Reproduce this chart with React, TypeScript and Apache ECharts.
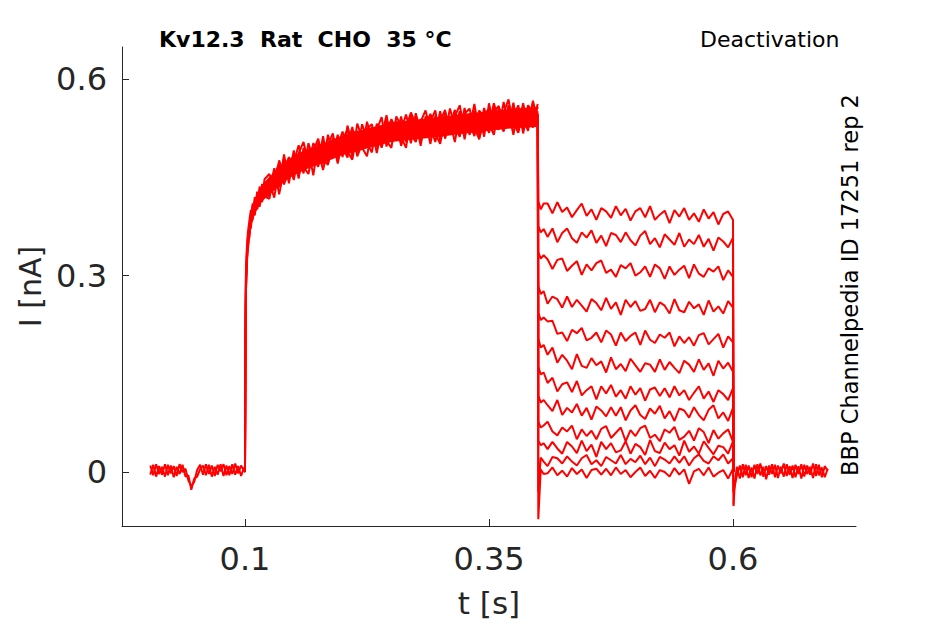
import React, { useEffect, useRef } from "react";
import * as echarts from "echarts";

// ---- tick labels ----
const xTicks = [0.1, 0.35, 0.6];
const yTicks = [0, 0.3, 0.6];

// ---- baseline before the step (s, nA) ----
const preTimes = [0.003, 0.006, 0.009, 0.012, 0.015, 0.018, 0.021, 0.024, 0.027, 0.030, 0.033, 0.036, 0.039, 0.042, 0.045, 0.048, 0.051, 0.054, 0.057, 0.060, 0.063, 0.066, 0.069, 0.072, 0.075, 0.078, 0.081, 0.084, 0.087, 0.090, 0.093, 0.096, 0.099];
const preA = [0.010, -0.005, 0.012, -0.003, 0.008, -0.007, 0.011, -0.002, 0.009, -0.006, 0.012, 0.000, 0.005, -0.013, -0.021, -0.015, 0.003, 0.011, -0.004, 0.012, -0.003, 0.010, -0.006, 0.011, 0.001, 0.012, -0.005, 0.009, -0.003, 0.013, -0.002, 0.010, 0.002];
const preB = [-0.004, 0.011, -0.007, 0.009, -0.004, 0.012, -0.005, 0.010, -0.008, 0.008, -0.003, 0.011, -0.007, -0.005, -0.027, -0.010, -0.007, 0.004, 0.010, -0.005, 0.011, -0.007, 0.008, -0.004, 0.012, -0.006, 0.010, -0.005, 0.012, -0.004, 0.009, -0.006, 0.007];

// ---- activation (0.1 - 0.4 s), overlapping sweeps ----
const actTimes = [0.1000, 0.1005, 0.1010, 0.1020, 0.1030, 0.1045, 0.1060, 0.1080, 0.1100, 0.1125, 0.1150, 0.1175, 0.1200,
  0.125, 0.130, 0.135, 0.140, 0.145, 0.150, 0.155, 0.160, 0.165, 0.170, 0.175, 0.180, 0.185, 0.190, 0.195, 0.200,
  0.205, 0.210, 0.215, 0.220, 0.225, 0.230, 0.235, 0.240, 0.245, 0.250, 0.255, 0.260, 0.265, 0.270, 0.275, 0.280,
  0.285, 0.290, 0.295, 0.300, 0.305, 0.310, 0.315, 0.320, 0.325, 0.330, 0.335, 0.340, 0.345, 0.350, 0.355, 0.360,
  0.365, 0.370, 0.375, 0.380, 0.385, 0.390, 0.395, 0.400];
const actA = [0.000, 0.215, 0.305, 0.345, 0.366, 0.384, 0.400, 0.388, 0.420, 0.402, 0.436, 0.418, 0.447,
  0.455, 0.432, 0.476, 0.453, 0.473, 0.446, 0.487, 0.504, 0.471, 0.484, 0.466, 0.507, 0.487, 0.505, 0.471, 0.507,
  0.523, 0.493, 0.510, 0.492, 0.535, 0.509, 0.527, 0.495, 0.526, 0.537, 0.507, 0.523, 0.546, 0.516, 0.504, 0.535,
  0.552, 0.521, 0.532, 0.511, 0.549, 0.520, 0.543, 0.560, 0.521, 0.534, 0.513, 0.552, 0.542, 0.522, 0.560, 0.532,
  0.548, 0.569, 0.528, 0.544, 0.524, 0.560, 0.550, 0.539];
const actB = [0.000, 0.205, 0.296, 0.322, 0.360, 0.358, 0.392, 0.410, 0.396, 0.428, 0.409, 0.440, 0.421,
  0.417, 0.458, 0.445, 0.480, 0.448, 0.473, 0.499, 0.466, 0.455, 0.493, 0.487, 0.470, 0.515, 0.485, 0.512, 0.497,
  0.480, 0.522, 0.514, 0.495, 0.482, 0.524, 0.519, 0.497, 0.538, 0.514, 0.531, 0.498, 0.526, 0.549, 0.531, 0.510,
  0.522, 0.545, 0.515, 0.551, 0.509, 0.536, 0.504, 0.546, 0.534, 0.524, 0.562, 0.519, 0.547, 0.532, 0.515, 0.556,
  0.543, 0.526, 0.564, 0.520, 0.550, 0.534, 0.564, 0.541];
const actC = [0.000, 0.195, 0.285, 0.338, 0.344, 0.378, 0.372, 0.404, 0.414, 0.401, 0.432, 0.416, 0.441,
  0.442, 0.419, 0.468, 0.467, 0.450, 0.491, 0.454, 0.477, 0.493, 0.453, 0.503, 0.481, 0.500, 0.517, 0.480, 0.495,
  0.514, 0.481, 0.532, 0.510, 0.500, 0.527, 0.487, 0.523, 0.503, 0.539, 0.522, 0.504, 0.534, 0.502, 0.548, 0.518,
  0.534, 0.501, 0.544, 0.531, 0.516, 0.555, 0.527, 0.512, 0.547, 0.555, 0.526, 0.508, 0.546, 0.554, 0.532, 0.523,
  0.565, 0.529, 0.543, 0.560, 0.517, 0.554, 0.533, 0.558];
const actD = [0.000, 0.190, 0.280, 0.318, 0.356, 0.365, 0.381, 0.386, 0.411, 0.420, 0.405, 0.433, 0.419,
  0.429, 0.464, 0.424, 0.462, 0.481, 0.457, 0.479, 0.456, 0.502, 0.478, 0.470, 0.513, 0.471, 0.499, 0.498, 0.520,
  0.489, 0.477, 0.520, 0.517, 0.503, 0.488, 0.532, 0.514, 0.545, 0.504, 0.512, 0.543, 0.504, 0.530, 0.536, 0.498,
  0.543, 0.526, 0.504, 0.536, 0.553, 0.516, 0.525, 0.551, 0.508, 0.547, 0.540, 0.518, 0.556, 0.527, 0.563, 0.536,
  0.520, 0.551, 0.515, 0.556, 0.542, 0.521, 0.567, 0.531];
const actE = [0.000, 0.210, 0.300, 0.334, 0.347, 0.375, 0.390, 0.399, 0.392, 0.417, 0.426, 0.412, 0.437,
  0.449, 0.446, 0.435, 0.485, 0.441, 0.485, 0.465, 0.487, 0.464, 0.502, 0.490, 0.461, 0.494, 0.482, 0.515, 0.481,
  0.529, 0.499, 0.488, 0.531, 0.510, 0.499, 0.522, 0.542, 0.497, 0.522, 0.536, 0.512, 0.495, 0.545, 0.521, 0.539,
  0.510, 0.535, 0.552, 0.506, 0.533, 0.522, 0.548, 0.517, 0.556, 0.515, 0.533, 0.547, 0.512, 0.563, 0.527, 0.546,
  0.522, 0.560, 0.534, 0.518, 0.555, 0.546, 0.526, 0.551];
const actF = [0.000, 0.185, 0.275, 0.326, 0.340, 0.362, 0.378, 0.408, 0.400, 0.409, 0.415, 0.429, 0.424,
  0.421, 0.452, 0.472, 0.439, 0.461, 0.481, 0.448, 0.495, 0.474, 0.490, 0.509, 0.478, 0.469, 0.510, 0.489, 0.511,
  0.499, 0.527, 0.482, 0.501, 0.524, 0.531, 0.496, 0.526, 0.506, 0.495, 0.543, 0.528, 0.518, 0.510, 0.542, 0.504,
  0.530, 0.547, 0.517, 0.501, 0.542, 0.528, 0.553, 0.523, 0.516, 0.542, 0.551, 0.510, 0.538, 0.518, 0.550, 0.559,
  0.525, 0.536, 0.557, 0.530, 0.563, 0.527, 0.540, 0.562];

// ---- dense core of the overlapping activation sweeps (envelope) ----
const bandTimes = [0.1035, 0.106, 0.110, 0.115, 0.120, 0.130, 0.140, 0.150, 0.165, 0.180, 0.200, 0.225, 0.250, 0.275, 0.300, 0.325, 0.350, 0.375, 0.399];
const bandLow = [0.348, 0.374, 0.394, 0.408, 0.417, 0.430, 0.443, 0.453, 0.464, 0.472, 0.484, 0.494, 0.504, 0.508, 0.512, 0.517, 0.521, 0.525, 0.527];
const bandHigh = [0.368, 0.396, 0.416, 0.432, 0.443, 0.458, 0.473, 0.483, 0.494, 0.502, 0.514, 0.524, 0.534, 0.538, 0.542, 0.547, 0.551, 0.555, 0.557];

// ---- deactivation tails (0.4 - 0.6 s), one per test step ----
const tailTimes = [0.4000, 0.4005, 0.4030, 0.4060,
  0.410, 0.415, 0.420, 0.425, 0.430, 0.435, 0.440, 0.445, 0.450, 0.455,
  0.460, 0.465, 0.470, 0.475, 0.480, 0.485, 0.490, 0.495, 0.500, 0.505,
  0.510, 0.515, 0.520, 0.525, 0.530, 0.535, 0.540, 0.545, 0.550, 0.555,
  0.560, 0.565, 0.570, 0.575, 0.580, 0.585, 0.590, 0.595, 0.600, 0.6005];
const tail1 = [0.548, 0.414, 0.401, 0.410,
  0.410, 0.395, 0.412, 0.397, 0.404, 0.389, 0.400, 0.410, 0.391, 0.401,
  0.385, 0.403, 0.398, 0.388, 0.406, 0.392, 0.402, 0.384, 0.398, 0.403,
  0.389, 0.406, 0.385, 0.393, 0.399, 0.380, 0.400, 0.390, 0.403, 0.385,
  0.395, 0.382, 0.401, 0.387, 0.397, 0.378, 0.394, 0.398, 0.385, 0.000];
const tail2 = [0.541, 0.376, 0.366, 0.371,
  0.359, 0.372, 0.351, 0.365, 0.372, 0.357, 0.350, 0.366, 0.358, 0.369,
  0.350, 0.361, 0.345, 0.365, 0.362, 0.351, 0.366, 0.354, 0.346, 0.361,
  0.368, 0.348, 0.357, 0.343, 0.363, 0.355, 0.347, 0.365, 0.344, 0.355,
  0.348, 0.362, 0.344, 0.356, 0.338, 0.358, 0.352, 0.343, 0.358, 0.000];
const tail3 = [0.536, 0.336, 0.326, 0.331,
  0.325, 0.310, 0.324, 0.326, 0.307, 0.315, 0.322, 0.301, 0.317, 0.308,
  0.319, 0.323, 0.304, 0.309, 0.298, 0.316, 0.311, 0.319, 0.300, 0.305,
  0.314, 0.298, 0.317, 0.311, 0.295, 0.314, 0.301, 0.309, 0.315, 0.296,
  0.317, 0.303, 0.298, 0.311, 0.306, 0.314, 0.293, 0.308, 0.298, 0.000];
const tail4 = [0.544, 0.284, 0.272, 0.276,
  0.257, 0.268, 0.264, 0.251, 0.268, 0.252, 0.263, 0.254, 0.245, 0.264,
  0.258, 0.247, 0.266, 0.249, 0.259, 0.240, 0.263, 0.252, 0.261, 0.246,
  0.249, 0.263, 0.244, 0.259, 0.254, 0.242, 0.264, 0.247, 0.244, 0.260,
  0.250, 0.256, 0.240, 0.262, 0.245, 0.253, 0.242, 0.261, 0.251, 0.000];
const tail5 = [0.539, 0.243, 0.232, 0.236,
  0.230, 0.231, 0.211, 0.213, 0.200, 0.217, 0.212, 0.220, 0.201, 0.205,
  0.213, 0.198, 0.216, 0.210, 0.193, 0.213, 0.200, 0.208, 0.213, 0.194,
  0.216, 0.202, 0.197, 0.210, 0.205, 0.213, 0.192, 0.207, 0.197, 0.206,
  0.193, 0.209, 0.212, 0.195, 0.203, 0.211, 0.190, 0.207, 0.198, 0.000];
const tail6 = [0.546, 0.204, 0.190, 0.194,
  0.179, 0.190, 0.167, 0.179, 0.170, 0.157, 0.180, 0.162, 0.159, 0.174,
  0.163, 0.169, 0.152, 0.175, 0.157, 0.165, 0.154, 0.173, 0.163, 0.153,
  0.166, 0.164, 0.153, 0.172, 0.156, 0.168, 0.159, 0.151, 0.170, 0.164,
  0.153, 0.172, 0.156, 0.166, 0.147, 0.170, 0.158, 0.167, 0.153, 0.000];
const tail7 = [0.538, 0.161, 0.149, 0.152,
  0.136, 0.144, 0.123, 0.134, 0.137, 0.122, 0.139, 0.117, 0.125, 0.131,
  0.111, 0.131, 0.120, 0.133, 0.115, 0.125, 0.112, 0.131, 0.118, 0.128,
  0.109, 0.126, 0.129, 0.116, 0.128, 0.114, 0.131, 0.117, 0.125, 0.110,
  0.121, 0.131, 0.112, 0.123, 0.107, 0.125, 0.119, 0.110, 0.128, 0.000];
const tail8 = [0.543, 0.117, 0.106, 0.110,
  0.102, 0.093, 0.110, 0.087, 0.098, 0.091, 0.104, 0.086, 0.098, 0.080,
  0.100, 0.094, 0.085, 0.099, 0.086, 0.099, 0.079, 0.094, 0.102, 0.087,
  0.081, 0.097, 0.089, 0.101, 0.082, 0.093, 0.078, 0.097, 0.094, 0.083,
  0.099, 0.087, 0.079, 0.095, 0.102, 0.082, 0.091, 0.078, 0.098, 0.000];
const tail9 = [0.540, 0.077, 0.068, 0.071,
  0.077, 0.062, 0.056, 0.068, 0.062, 0.071, 0.050, 0.065, 0.055, 0.063,
  0.050, 0.066, 0.070, 0.052, 0.060, 0.068, 0.047, 0.064, 0.055, 0.067,
  0.071, 0.052, 0.057, 0.047, 0.065, 0.060, 0.069, 0.049, 0.054, 0.063,
  0.048, 0.067, 0.061, 0.044, 0.064, 0.051, 0.059, 0.065, 0.046, 0.000];
const tail10 = [0.545, 0.048, 0.041, 0.044,
  0.035, 0.046, 0.036, 0.028, 0.046, 0.039, 0.029, 0.048, 0.032, 0.042,
  0.023, 0.046, 0.035, 0.044, 0.030, 0.033, 0.047, 0.028, 0.043, 0.038,
  0.026, 0.049, 0.032, 0.029, 0.045, 0.035, 0.041, 0.025, 0.048, 0.031,
  0.039, 0.028, 0.047, 0.037, 0.027, 0.040, 0.038, 0.028, 0.047, 0.000];
const tail11 = [0.537, -0.030, 0.022, 0.016,
  0.009, 0.023, 0.021, 0.013, 0.024, 0.016, 0.010, 0.021, 0.026, 0.012,
  0.018, 0.009, 0.023, 0.018, 0.013, 0.026, 0.012, 0.020, 0.015, 0.025,
  0.012, 0.022, 0.009, 0.023, 0.019, 0.013, 0.024, 0.014, 0.024, 0.010,
  0.021, 0.027, 0.017, 0.013, 0.024, 0.018, 0.027, 0.013, 0.021, -0.030];
const tail12 = [0.542, -0.072, 0.004, -0.003,
  -0.002, 0.007, -0.005, 0.002, -0.007, 0.006, -0.003, 0.004, -0.009, 0.003,
  0.005, -0.004, 0.005, -0.005, 0.007, -0.003, 0.003, -0.008, 0.000, 0.007,
  -0.006, 0.002, -0.009, 0.003, 0.000, -0.007, 0.006, -0.004, 0.004, -0.018,
  0.001, 0.005, -0.005, 0.007, -0.007, -0.001, 0.003, -0.010, 0.005, -0.050];

// ---- baseline after the tail pulse ----
const postTimes = [0.6005, 0.602, 0.604, 0.607, 0.610, 0.613, 0.616, 0.619, 0.622, 0.625, 0.628, 0.631, 0.634, 0.637,
  0.640, 0.643, 0.646, 0.649, 0.652, 0.655, 0.658, 0.661, 0.664, 0.667, 0.670, 0.673, 0.676, 0.679, 0.682, 0.685,
  0.688, 0.691, 0.694, 0.697];
const postA = [-0.052, -0.014, 0.008, -0.010, 0.012, -0.005, 0.010, -0.008, 0.011, -0.003, 0.013, -0.007, 0.009, -0.004,
  0.012, -0.008, 0.010, -0.002, 0.013, -0.006, 0.009, -0.009, 0.011, -0.003, 0.012, -0.007, 0.010, -0.004, 0.013, -0.006,
  0.011, -0.008, 0.009, 0.002];
const postB = [-0.030, -0.020, -0.005, 0.010, -0.008, 0.011, -0.009, 0.007, -0.010, 0.012, -0.005, 0.008, -0.011, 0.010,
  -0.003, 0.011, -0.009, 0.008, -0.007, 0.012, -0.004, 0.010, -0.008, 0.009, -0.010, 0.011, -0.003, 0.008, -0.009, 0.012,
  -0.005, 0.007, -0.008, 0.005];

const tails = [tail1, tail2, tail3, tail4, tail5, tail6, tail7, tail8, tail9, tail10, tail11, tail12];

function zip(ts: number[], vs: number[]): number[][] {
  const n = Math.min(ts.length, vs.length);
  const out: number[][] = [];
  for (let i = 0; i < n; i++) out.push([ts[i], vs[i]]);
  return out;
}

const FONT = '"DejaVu Sans", "Liberation Sans", sans-serif';
const INK = "#262626";
const RED = "#ff0000";

export default function App() {
  const ref = useRef<HTMLDivElement>(null);
  useEffect(() => {
    if (!ref.current) return;
    const chart = echarts.init(ref.current, undefined, { renderer: "svg" });
    const traces: number[][][] = [
      zip(preTimes, preA).concat(zip(actTimes, actA)),
      zip(preTimes, preB).concat(zip(actTimes, actB)),
      zip(actTimes, actC),
      zip(actTimes, actD),
      zip(actTimes, actE),
      zip(actTimes, actF),
      ...tails.map((v) => zip(tailTimes, v)),
      zip(postTimes, postA),
      zip(postTimes, postB),
    ];
    const lineSeries: any[] = traces.map((d) => ({
      type: "line" as const,
      data: d,
      symbol: "none",
      showSymbol: false,
      silent: true,
      lineStyle: { color: RED, width: 2 },
      itemStyle: { color: RED },
    }));
    const bandSeries = {
      type: "custom" as const,
      coordinateSystem: "cartesian2d",
      silent: true,
      encode: { x: 0, y: 1 },
      data: [[bandTimes[0], bandLow[0]]],
      renderItem: (params: any, api: any) => {
        if (params.dataIndex !== 0) return null;
        const pts: number[][] = [];
        for (let i = 0; i < bandTimes.length; i++) pts.push(api.coord([bandTimes[i], bandHigh[i]]));
        for (let i = bandTimes.length - 1; i >= 0; i--) pts.push(api.coord([bandTimes[i], bandLow[i]]));
        return { type: "polygon", shape: { points: pts }, style: { fill: RED } };
      },
    };
    chart.setOption({
      animation: false,
      grid: { left: 122, right: 89, top: 47, bottom: 98, containLabel: false },
      xAxis: {
        type: "value",
        min: -0.026,
        max: 0.726,
        name: "t [s]",
        nameLocation: "middle",
        nameGap: 61,
        nameTextStyle: { fontFamily: FONT, fontSize: 31, color: INK },
        axisLine: { show: true, onZero: false, lineStyle: { color: INK, width: 1 } },
        axisTick: { show: true, inside: true, length: 7, customValues: xTicks, lineStyle: { color: INK } },
        axisLabel: {
          customValues: xTicks,
          margin: 17,
          fontFamily: FONT,
          fontSize: 32,
          color: INK,
          formatter: (v: number) => String(v),
        },
        splitLine: { show: false },
      },
      yAxis: {
        type: "value",
        min: -0.0824,
        max: 0.649,
        name: "I [nA]",
        nameLocation: "middle",
        nameGap: 76,
        nameTextStyle: { fontFamily: FONT, fontSize: 30, color: INK },
        axisLine: { show: true, onZero: false, lineStyle: { color: INK, width: 1 } },
        axisTick: { show: true, inside: true, length: 7, customValues: yTicks, lineStyle: { color: INK } },
        axisLabel: {
          customValues: yTicks,
          margin: 15,
          fontFamily: FONT,
          fontSize: 32,
          color: INK,
          formatter: (v: number) => String(v),
        },
        splitLine: { show: false },
      },
      graphic: [
        {
          type: "text",
          x: 159,
          y: 39,
          style: {
            text: "Kv12.3  Rat  CHO  35 °C",
            font: `bold 22px ${FONT}`,
            fill: "#000",
            textAlign: "left",
            textVerticalAlign: "middle",
          },
        },
        {
          type: "text",
          x: 700,
          y: 39,
          style: {
            text: "Deactivation",
            font: `22px ${FONT}`,
            fill: "#000",
            textAlign: "left",
            textVerticalAlign: "middle",
          },
        },
        {
          type: "text",
          x: 850,
          y: 285,
          rotation: Math.PI / 2,
          style: {
            text: "BBP Channelpedia ID 17251 rep 2",
            font: `22.5px ${FONT}`,
            fill: "#000",
            textAlign: "center",
            textVerticalAlign: "middle",
          },
        },
      ],
      series: [bandSeries, ...lineSeries],
    });
    return () => chart.dispose();
  }, []);
  return (
    <div
      ref={ref}
      style={{ position: "fixed", left: 0, top: 0, width: 945, height: 624, background: "#fff" }}
    />
  );
}
